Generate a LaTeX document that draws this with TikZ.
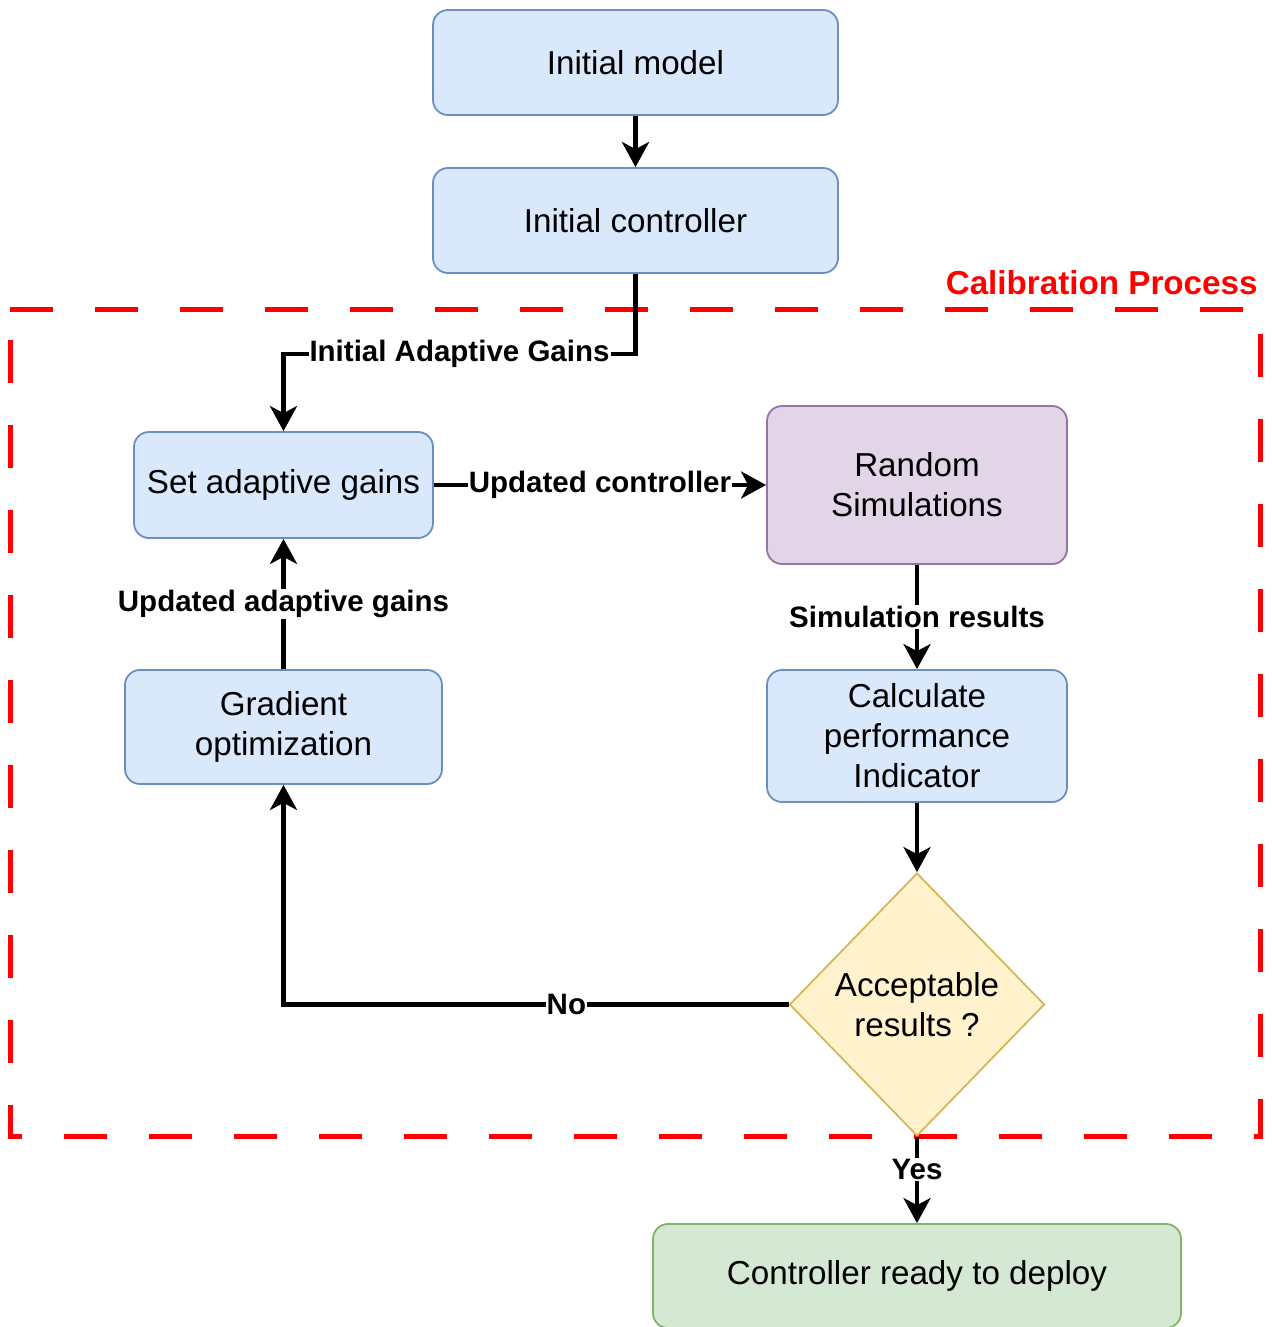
\documentclass[tikz,border=0pt]{standalone}
\usepackage{fontspec}
\setmainfont{Liberation Sans}
\usetikzlibrary{arrows.meta,shapes.geometric}
\definecolor{bfill}{HTML}{DAE8FC}
\definecolor{bline}{HTML}{6C8EBF}
\definecolor{pfill}{HTML}{E1D5E7}
\definecolor{pline}{HTML}{9673A6}
\definecolor{yfill}{HTML}{FFF2CC}
\definecolor{yline}{HTML}{D6B656}
\definecolor{gfill}{HTML}{D5E8D4}
\definecolor{gline}{HTML}{82B366}
\definecolor{calred}{HTML}{FF0000}
\newcommand\myBodyFont{\fontsize{16.6}{20}\selectfont}
\newcommand\myLabFont{\fontsize{14.75}{17}\selectfont\bfseries}
\begin{document}
\begin{tikzpicture}[x=0.5pt,y=-0.5pt,
  boxbase/.style={rounded corners=7.5pt, line width=0.9pt, align=center, font=\myBodyFont, inner sep=0pt},
  bluebox/.style={boxbase, draw=bline, fill=bfill},
  purplebox/.style={boxbase, draw=pline, fill=pfill},
  greenbox/.style={boxbase, draw=gline, fill=gfill},
  conn/.style={line width=2.1pt, -{Stealth[length=12.5pt,width=13.5pt,inset=3.5pt]}},
  plainconn/.style={line width=2.1pt},
  lab/.style={fill=white, inner sep=0.5pt, font=\myLabFont}]
\useasboundingbox (0,0) rectangle (1271,1327);
\fill[white] (0,0) rectangle (1271,1327);

% calibration frame
\draw[calred, line width=2.5pt, dash pattern=on 21.5pt off 21pt]
  (10,309) -- (1260,309) -- (1260,1136) -- (10,1136) -- cycle;
\node[anchor=base east, text=calred, font=\fontsize{16.6}{20}\selectfont\bfseries, inner sep=0pt] (cal) at (1258,294) {Calibration Process};

% nodes
\node[bluebox, minimum width=202.5pt, minimum height=52.5pt] (im) at (635.5,62.5) {Initial model};
\node[bluebox, minimum width=202.5pt, minimum height=52.5pt] (ic) at (635.5,220.5) {Initial controller};
\node[bluebox, minimum width=149.5pt, minimum height=53pt] (sag) at (283.5,485) {Set adaptive gains};
\node[purplebox, minimum width=150pt, minimum height=79pt] (rs) at (917,485) {Random\\Simulations};
\node[bluebox, minimum width=158.5pt, minimum height=57pt] (go) at (283.5,727) {Gradient\\optimization};
\node[bluebox, minimum width=150pt, minimum height=66pt] (cpi) at (917,736) {Calculate\\performance\\Indicator};
\node[diamond, draw=yline, fill=yfill, line width=0.9pt, inner sep=0pt, minimum width=127.5pt, minimum height=131.5pt] (dia) at (917,1004.5) {};
\node[align=center, font=\myBodyFont, inner sep=0pt] (diatext) at (dia.center) {Acceptable\\results ?};
\node[greenbox, minimum width=264pt, minimum height=52pt] (crd) at (917,1276) {Controller ready to deploy};

% connectors
\draw[conn] (im.south) -- (ic.north);
\draw[conn] (ic.south) -- ++(0,80) -| node[lab, pos=0.25] {Initial Adaptive Gains} (sag.north);
\draw[conn] (sag.east) -- node[lab] {Updated controller} (rs.west);
\draw[conn] (rs.south) -- node[lab] {Simulation results} (cpi.north);
\draw[conn] (cpi.south) -- (dia.north);
\draw[conn] (dia.west) -| node[lab, pos=0.22] {No} (go.south);
\draw[conn] (go.north) -- node[lab] {Updated adaptive gains} (sag.south);
\draw[conn] (dia.south) -- node[lab, pos=0.38] {Yes} (crd.north);
\end{tikzpicture}
\end{document}
